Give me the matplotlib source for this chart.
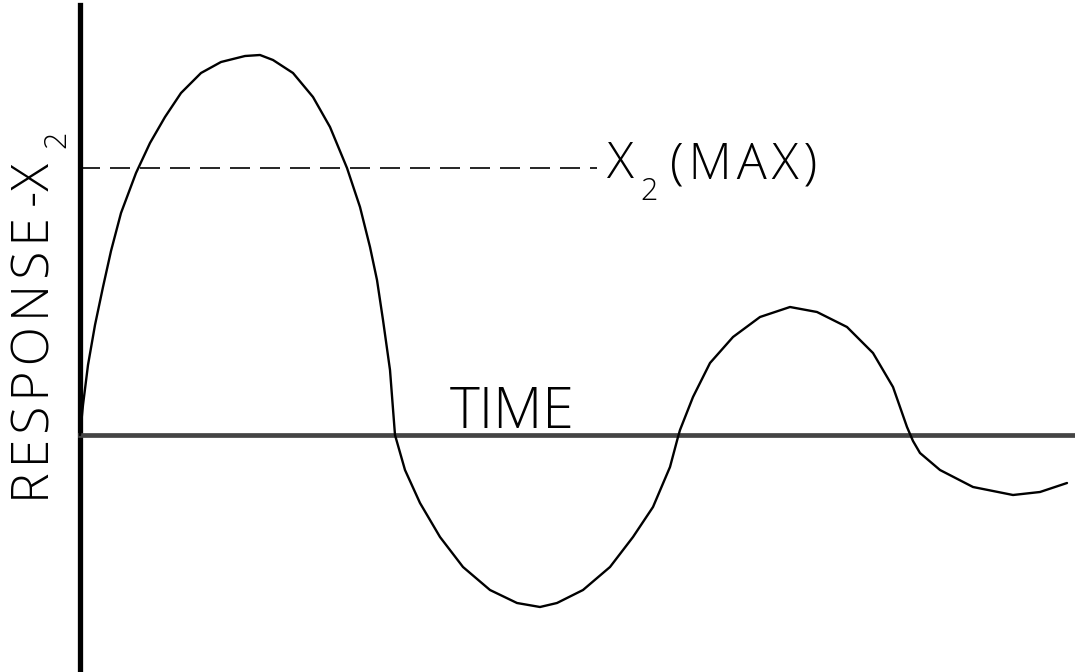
import numpy as np
import matplotlib.pyplot as plt

# response curve (time, response)
time = [0.00, 0.03, 0.08, 0.15, 0.23, 0.31, 0.41, 0.56, 0.70, 0.85, 1.01, 1.21,
        1.41, 1.65, 1.80, 1.93, 2.13, 2.33, 2.50, 2.67, 2.80, 2.90, 2.97, 3.03,
        3.10, 3.15, 3.25, 3.40, 3.60, 3.83, 4.10, 4.37, 4.60, 4.77, 5.03, 5.30,
        5.53, 5.73, 5.90, 5.98, 6.00, 6.13, 6.30, 6.53, 6.80, 7.10, 7.37, 7.67,
        7.93, 8.13, 8.27, 8.33, 8.40, 8.60, 8.93, 9.33, 9.60, 9.87]
response = [0.00, 0.30, 0.70, 1.10, 1.48, 1.84, 2.22, 2.62, 2.92, 3.18, 3.42, 3.62,
            3.73, 3.79, 3.80, 3.75, 3.62, 3.38, 3.08, 2.67, 2.28, 1.88, 1.55, 1.15,
            0.65, 0.00, -0.35, -0.68, -1.02, -1.32, -1.55, -1.68, -1.72, -1.68, -1.55, -1.32,
            -1.02, -0.72, -0.32, -0.02, 0.05, 0.38, 0.72, 0.98, 1.18, 1.28, 1.23, 1.08,
            0.82, 0.48, 0.08, -0.06, -0.18, -0.35, -0.52, -0.60, -0.57, -0.48]

x2_max = 2.67
dash_end = 5.17

fnt = ['Open Sans', 'DejaVu Sans']
hs = '\u200a'  # hair space, the old lettering is spaced out

fig = plt.figure(figsize=(10.75, 6.72), dpi=100)
ax = fig.add_axes([0, 0, 1, 1])
ax.set_xlim(-0.8, 9.95)
ax.set_ylim(-2.37, 4.35)

ax.plot(time, response, color='black', lw=1.7, zorder=3,
        solid_joinstyle='round', solid_capstyle='round')
ax.plot([0, dash_end], [x2_max, x2_max], color='black', lw=1.2, dashes=(12, 6))

ax.set_xticks([])
ax.set_yticks([])
ax.spines['top'].set_visible(False)
ax.spines['right'].set_visible(False)
ax.spines['left'].set_position(('data', 0))
ax.spines['bottom'].set_position(('data', 0))
ax.spines['left'].set_bounds(-2.37, 4.30)
ax.spines['bottom'].set_bounds(0, 9.95)
ax.spines['left'].set_linewidth(3.8)
ax.spines['bottom'].set_linewidth(3.4)
ax.spines['bottom'].set_color('#444444')

ax.text(3.70, 0.07, 'TIME', fontsize=41, family=fnt, fontweight='light',
        ha='left', va='baseline')
ax.text(5.27, 2.57, 'X', fontsize=36, family=fnt, fontweight='light',
        ha='left', va='baseline')
ax.text(5.60, 2.35, '2', fontsize=22, family=fnt, fontweight='light',
        ha='left', va='baseline')
ax.text(5.90, 2.57, hs.join('(MAX)'), fontsize=36, family=fnt, fontweight='light',
        ha='left', va='baseline')

ax.text(-0.30, -0.68, hs.join('RESPONSE') + '\u2009-X', fontsize=37, family=fnt,
        fontweight='light', rotation=90, rotation_mode='anchor',
        ha='left', va='baseline')
ax.text(-0.15, 2.87, '2', fontsize=22, family=fnt, fontweight='light',
        rotation=90, rotation_mode='anchor', ha='left', va='baseline')

fig.savefig('out.png', dpi=100)
